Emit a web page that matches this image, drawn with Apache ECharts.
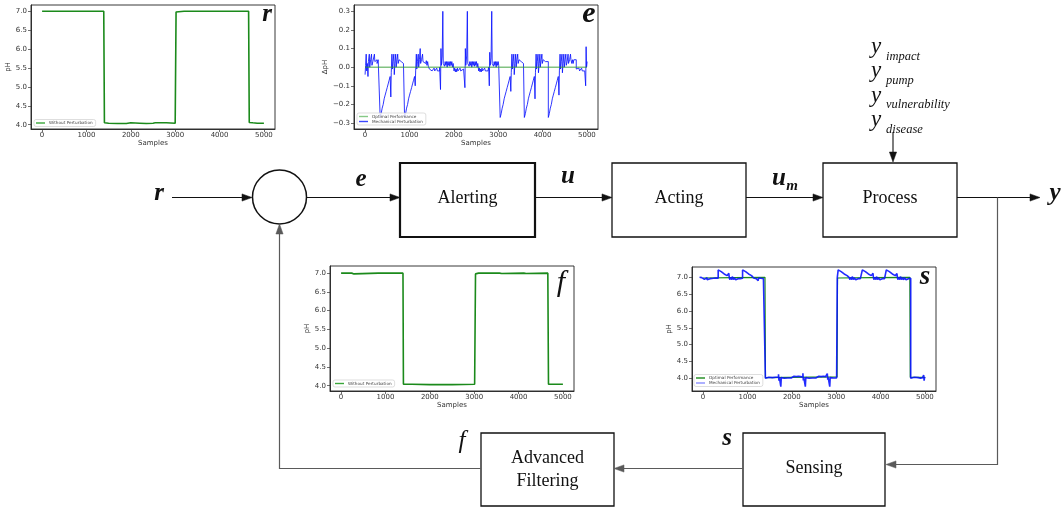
<!DOCTYPE html>
<html>
<head>
<meta charset="utf-8">
<script src="https://cdn.jsdelivr.net/npm/echarts@6/dist/echarts.min.js"></script>
<style>
html,body{margin:0;padding:0;background:#fff;}
#chart{width:1061px;height:509px;}
</style>
</head>
<body>
<div id="chart"></div>
<script>
// Tick positions shared by the four small plots
const sampleTicks = [0, 1000, 2000, 3000, 4000, 5000];
const phTicks = [4.0, 4.5, 5.0, 5.5, 6.0, 6.5, 7.0];
const dphTicks = [-0.3, -0.2, -0.1, 0.0, 0.1, 0.2, 0.3];

// r : reference pH (without perturbation)
const referencePh = [
  [0,7.0],[230,7.0],[250,6.97],[275,6.98],[300,7.0],[830,7.0],[850,6.97],[875,6.99],[900,7.0],
  [1390,7.0],[1405,4.05],[1500,4.04],[1700,4.03],[1900,4.03],[2000,4.05],[2200,4.04],[2350,4.03],
  [2500,4.04],[2550,4.05],[2800,4.05],[3000,4.04],[3020,6.98],[3080,6.99],[3200,7.0],[3560,7.0],
  [3580,6.97],[3600,6.99],[3630,7.0],[4110,7.0],[4130,6.97],[4150,6.99],[4180,7.0],[4655,7.0],
  [4670,4.06],[4750,4.05],[4850,4.04],[5000,4.04]
];

// e : error signal (delta pH)
const errorOptimal = [[0,0.0],[5000,0.0]];
const errorMechanical = [
  [0,-0.04],[12,0.01],[25,0.07],[35,-0.02],[50,0.02],[65,-0.05],[75,0.03],[95,0.07],[105,0.0],[125,0.04],
  [145,0.07],[155,0.01],[175,0.03],[195,0.04],[210,0.07],[220,0.03],[245,0.04],[270,0.02],[295,0.04],[320,0.03],
  [340,-0.27],[362,-0.25],[385,-0.22],[408,-0.2],[430,-0.17],[452,-0.15],[475,-0.13],[498,-0.11],[520,-0.09],
  [542,-0.07],[565,-0.05],[580,-0.16],[590,-0.03],[605,0.07],[615,-0.01],[630,0.03],[648,0.07],[658,-0.04],
  [672,0.02],[690,0.07],[700,0.0],[718,0.04],[735,0.07],[745,0.02],[765,0.04],[790,0.03],[815,0.04],[840,0.02],[865,0.03],
  [890,-0.27],[912,-0.25],[935,-0.22],[958,-0.2],[980,-0.17],[1002,-0.15],[1025,-0.13],[1048,-0.11],[1070,-0.09],
  [1092,-0.07],[1115,-0.05],[1130,-0.1],[1140,-0.02],[1155,0.07],[1165,-0.01],[1180,0.03],[1198,0.07],[1208,0.0],
  [1225,0.04],[1242,0.1],[1252,0.02],[1272,0.04],[1295,0.07],[1305,0.03],[1320,0.04],[1335,0.02],[1350,0.04],
  [1365,0.02],[1380,0.035],[1395,0.01],[1410,0.03],[1425,0.005],
  [1450,-0.01],[1465,0.0],[1480,-0.02],[1495,-0.005],[1510,-0.02],[1525,-0.01],[1540,-0.025],[1555,-0.005],
  [1570,-0.02],[1585,-0.01],[1600,-0.025],[1615,-0.005],[1630,-0.02],[1645,-0.01],[1660,-0.02],[1680,0.0],
  [1700,-0.12],[1710,0.1],[1720,0.01],[1738,0.06],[1752,0.3],[1762,0.02],[1775,0.03],[1790,0.005],[1805,0.03],
  [1820,0.01],[1835,0.03],[1850,0.0],[1865,0.03],[1880,0.01],[1895,0.03],[1910,0.005],[1925,0.03],[1940,0.01],
  [1955,0.03],[1970,0.0],[1985,0.02],
  [2005,-0.02],[2020,-0.005],[2035,-0.025],[2050,-0.01],[2065,-0.025],[2080,-0.005],[2095,-0.02],[2110,-0.01],
  [2125,-0.025],[2140,-0.005],[2155,-0.02],[2170,-0.01],[2185,-0.025],[2200,-0.01],[2220,-0.02],[2235,0.0],
  [2250,-0.11],[2260,0.1],[2270,0.01],[2290,0.06],[2305,0.3],[2315,0.02],[2330,0.03],[2345,0.005],[2360,0.03],
  [2375,0.01],[2390,0.03],[2405,0.0],[2420,0.03],[2435,0.01],[2450,0.03],[2465,0.005],[2480,0.03],[2495,0.01],
  [2510,0.03],[2525,0.0],[2540,0.02],
  [2560,-0.02],[2575,-0.005],[2590,-0.025],[2605,-0.01],[2620,-0.025],[2635,-0.005],[2650,-0.02],[2665,-0.01],
  [2680,-0.025],[2695,-0.005],[2710,-0.02],[2725,-0.01],[2740,-0.025],[2755,-0.01],[2770,-0.02],[2785,0.0],
  [2800,-0.1],[2810,0.08],[2820,0.01],[2840,0.05],[2855,0.3],[2865,0.02],[2880,0.03],[2895,0.005],[2910,0.03],
  [2925,0.01],[2940,0.03],[2955,0.0],[2970,0.03],[2985,0.01],[3000,0.03],[3012,0.01],[3025,0.0],
  [3045,-0.27],[3067,-0.25],[3090,-0.22],[3112,-0.2],[3135,-0.17],[3157,-0.15],[3180,-0.13],[3202,-0.11],[3225,-0.09],
  [3247,-0.07],[3270,-0.05],[3285,-0.13],[3295,-0.03],[3310,0.07],[3320,-0.01],[3335,0.03],[3352,0.07],[3362,-0.04],
  [3378,0.02],[3395,0.07],[3405,0.0],[3422,0.04],[3440,0.07],[3450,0.02],[3470,0.04],[3495,0.03],[3520,0.04],[3545,0.02],[3570,0.03],
  [3590,-0.27],[3612,-0.25],[3635,-0.22],[3658,-0.2],[3680,-0.17],[3702,-0.15],[3725,-0.13],[3748,-0.11],[3770,-0.09],
  [3792,-0.07],[3815,-0.05],[3830,-0.17],[3840,-0.03],[3855,0.07],[3865,-0.01],[3880,0.03],[3898,0.07],[3908,-0.03],
  [3924,0.02],[3940,0.07],[3950,0.0],[3968,0.04],[3985,0.07],[3995,0.02],[4015,0.04],[4040,0.03],[4065,0.04],[4090,0.02],[4110,0.03],
  [4130,-0.27],[4152,-0.25],[4175,-0.22],[4198,-0.2],[4220,-0.17],[4242,-0.15],[4265,-0.13],[4288,-0.11],[4310,-0.09],
  [4332,-0.07],[4355,-0.05],[4370,-0.15],[4380,-0.02],[4395,0.07],[4405,-0.01],[4420,0.03],[4438,0.07],[4448,-0.03],
  [4462,0.02],[4480,0.07],[4490,0.0],[4508,0.04],[4525,0.07],[4535,0.01],[4555,0.03],[4575,0.07],[4585,0.02],
  [4610,0.04],[4630,0.07],[4640,0.04],[4660,0.02],[4675,0.04],[4690,0.02],[4705,0.04],[4720,0.03],[4735,0.04],
  [4760,-0.01],[4775,-0.02],[4790,0.0],[4805,-0.02],[4820,-0.005],[4835,-0.02],[4850,-0.01],[4865,-0.025],
  [4880,-0.005],[4895,-0.02],[4910,-0.01],[4925,-0.02],[4950,-0.01],[4972,-0.1],[4982,0.11],[4992,0.0],[5005,0.03]
];

// f : filtered pH (without perturbation)
const filteredPh = [
  [0,7.0],[240,7.0],[260,6.97],[290,6.98],[320,7.0],[840,7.0],[860,6.97],[885,6.98],[910,7.0],
  [1395,7.0],[1405,4.04],[1600,4.04],[2000,4.03],[2500,4.03],[3010,4.04],[3030,6.98],[3100,7.0],
  [3570,7.0],[3590,6.97],[3620,6.99],[3650,7.0],[4120,7.0],[4140,6.97],[4170,6.99],[4200,7.0],
  [4660,7.0],[4675,4.04],[4800,4.04],[5000,4.04]
];

// s : sensed pH
const sensedOptimal = [
  [0,6.98],[700,6.99],[1395,7.0],[1405,4.02],[3020,4.04],[3030,6.98],[3800,6.99],[4660,7.0],[4670,4.03],[5005,4.03]
];
const sensedMechanical = [
  [-80,7.0],[-65,6.95],[-50,6.99],[-30,6.97],[-10,7.0],[10,6.94],[30,6.98],[50,6.96],[70,6.99],[90,6.93],
  [110,6.98],[135,6.96],[160,6.99],[180,6.95],[200,6.97],[230,6.96],[260,6.98],[290,6.96],[320,6.97],
  [340,7.22],[362,7.2],[385,7.17],[408,7.15],[430,7.12],[452,7.1],[475,7.08],[498,7.06],[520,7.05],[542,7.03],
  [565,7.01],[580,7.12],[590,6.99],[605,6.93],[615,7.0],[630,6.96],[648,6.93],[658,7.02],[672,6.97],[690,6.93],
  [700,6.99],[718,6.96],[735,6.93],[745,6.98],[765,6.96],[790,6.97],[815,6.96],[840,6.98],[865,6.97],
  [890,7.22],[912,7.2],[935,7.17],[958,7.15],[980,7.12],[1002,7.1],[1025,7.08],[1048,7.06],[1070,7.05],[1092,7.03],
  [1115,7.01],[1130,7.08],[1140,6.98],[1155,6.93],[1165,7.0],[1180,6.96],[1198,6.93],[1208,6.99],[1225,6.95],
  [1242,6.9],[1252,6.98],[1272,6.96],[1295,6.93],[1305,6.97],[1330,6.96],[1360,6.97],[1390,6.97],
  [1405,4.0],[1440,4.03],[1480,4.0],[1520,4.02],[1560,4.0],[1600,4.03],[1640,4.01],[1680,4.03],
  [1700,4.12],[1710,3.93],[1720,4.03],[1738,3.98],[1752,3.75],[1762,4.02],[1790,4.0],[1830,4.03],[1870,4.01],
  [1910,4.02],[1950,4.01],[1985,4.03],[2005,4.06],[2050,4.05],[2100,4.06],[2150,4.05],[2200,4.06],[2235,4.04],
  [2250,4.15],[2260,3.94],[2270,4.03],[2290,3.98],[2305,3.75],[2315,4.02],[2350,4.0],[2390,4.03],[2430,4.01],
  [2470,4.02],[2510,4.01],[2540,4.03],[2560,4.06],[2610,4.05],[2660,4.06],[2710,4.05],[2760,4.06],[2785,4.04],
  [2800,4.14],[2810,3.96],[2820,4.03],[2840,3.99],[2855,3.75],[2865,4.02],[2900,4.01],[2940,4.03],[2980,4.01],
  [3010,4.02],[3025,7.0],
  [3045,7.22],[3067,7.2],[3090,7.17],[3112,7.15],[3135,7.12],[3157,7.1],[3180,7.08],[3202,7.06],[3225,7.05],
  [3247,7.03],[3270,7.01],[3285,7.09],[3295,6.99],[3310,6.93],[3320,7.0],[3335,6.96],[3352,6.93],[3362,7.02],
  [3378,6.97],[3395,6.93],[3405,6.99],[3422,6.96],[3440,6.93],[3450,6.98],[3470,6.96],[3495,6.97],[3520,6.96],[3545,6.98],[3570,6.97],
  [3590,7.22],[3612,7.2],[3635,7.17],[3658,7.15],[3680,7.12],[3702,7.1],[3725,7.08],[3748,7.06],[3770,7.05],
  [3792,7.03],[3815,7.01],[3830,7.12],[3840,6.99],[3855,6.93],[3865,7.0],[3880,6.96],[3898,6.93],[3908,7.02],
  [3924,6.97],[3940,6.93],[3950,6.99],[3968,6.96],[3985,6.93],[3995,6.98],[4015,6.96],[4040,6.97],[4065,6.96],[4090,6.98],[4110,6.97],
  [4130,7.22],[4152,7.2],[4175,7.17],[4198,7.15],[4220,7.12],[4242,7.1],[4265,7.08],[4288,7.06],[4310,7.05],
  [4332,7.03],[4355,7.01],[4370,7.11],[4380,6.99],[4395,6.93],[4405,7.0],[4420,6.96],[4438,6.93],[4448,7.02],
  [4462,6.97],[4480,6.93],[4490,6.99],[4508,6.96],[4525,6.93],[4535,6.99],[4555,6.97],[4575,6.93],[4585,6.98],
  [4610,6.96],[4630,6.93],[4640,6.96],[4665,6.97],
  [4680,4.0],[4720,4.03],[4760,4.0],[4800,4.02],[4850,4.0],[4900,4.02],[4950,4.01],[4972,4.1],[4982,3.93],[4992,4.02],[5005,4.0]
];

// Layout of the four small plots: [left, top, width, height]
const plotBoxes = {
  r: [31, 5, 244, 124],
  e: [354, 5, 244, 124],
  f: [330, 266, 244, 125],
  s: [692, 267, 244, 124]
};

const GREEN = '#1b8a1b';
const BLUE = '#0a14ff';
const TICK_FONT = 'DejaVu Sans';

function fmt(v) {
  const t = Math.abs(v) < 1e-9 ? '0.0' : v.toFixed(1);
  return t.replace('-', '\u2212');
}

function makeGrid(b) {
  return {left: b[0], top: b[1], width: b[2], height: b[3], show: true,
    borderColor: '#222', borderWidth: 0.9, backgroundColor: '#fff', containLabel: false};
}

function makeX(gi) {
  return {
    type: 'value', gridIndex: gi, min: -250, max: 5250,
    name: 'Samples', nameLocation: 'middle', nameGap: 11,
    nameTextStyle: {fontSize: 7, color: '#333', fontFamily: TICK_FONT},
    axisLine: {show: true, onZero: false, lineStyle: {color: '#222', width: 0.9}},
    splitLine: {show: false},
    axisTick: {show: true, inside: false, length: 3, customValues: sampleTicks, lineStyle: {color: '#333', width: 0.7}},
    axisLabel: {customValues: sampleTicks, fontSize: 7, color: '#333', margin: 3, fontFamily: TICK_FONT, formatter: v => String(Math.round(v))}
  };
}

function makeY(gi, min, max, ticks, name, gap) {
  return {
    type: 'value', gridIndex: gi, min: min, max: max,
    name: name, nameLocation: 'middle', nameGap: gap, nameRotate: 90,
    nameTextStyle: {fontSize: 7, color: '#333', fontFamily: TICK_FONT},
    axisLine: {show: true, onZero: false, lineStyle: {color: '#222', width: 0.9}},
    splitLine: {show: false},
    axisTick: {show: true, inside: false, length: 3, customValues: ticks, lineStyle: {color: '#333', width: 0.7}},
    axisLabel: {customValues: ticks, fontSize: 7, color: '#333', margin: 4, fontFamily: TICK_FONT, formatter: fmt}
  };
}

function lineSeries(name, gi, data, color, width, opacity, step) {
  return {
    type: 'line', name: name, xAxisIndex: gi, yAxisIndex: gi, data: data,
    showSymbol: false, symbol: 'none', step: step || false, animation: false,
    lineStyle: {color: color, width: width, opacity: opacity},
    itemStyle: {color: color}, silent: true
  };
}

function makeLegend(left, top, items, vertical) {
  return {
    left: left, top: top, orient: vertical ? 'vertical' : 'horizontal',
    itemWidth: 9, itemHeight: 1.4, itemGap: 1, icon: 'rect',
    padding: [1.5, 3, 1.5, 2], borderColor: '#d0d0d0', borderWidth: 0.7, borderRadius: 2,
    backgroundColor: 'rgba(255,255,255,0.85)', selectedMode: false,
    textStyle: {fontSize: 4.2, color: '#444', fontFamily: TICK_FONT, padding: [0, 0, 0, -1]},
    data: items
  };
}

// Block diagram drawn with graphic primitives
const graphics = [];
const INK = '#111';
const FEED = '#5a5a5a';
const SERIF = 'Liberation Serif';

function poly(points, color, w) {
  graphics.push({type: 'polyline', silent: true, z: 10, shape: {points: points},
    style: {stroke: color, lineWidth: w, fill: null}});
}
function head(x, y, dir, color) {
  const L = 10, W = 3.6;
  let p;
  if (dir === 'r') p = [[x, y], [x - L, y - W], [x - L, y + W]];
  if (dir === 'l') p = [[x, y], [x + L, y - W], [x + L, y + W]];
  if (dir === 'u') p = [[x, y], [x - W, y + L], [x + W, y + L]];
  if (dir === 'd') p = [[x, y], [x - W, y - L], [x + W, y - L]];
  graphics.push({type: 'polygon', silent: true, z: 11, shape: {points: p}, style: {fill: color, stroke: color, lineWidth: 0.5}});
}
function box(x, y, w, h, lw) {
  graphics.push({type: 'rect', silent: true, z: 10, shape: {x: x, y: y, width: w, height: h},
    style: {fill: '#fff', stroke: INK, lineWidth: lw}});
}
function label(x, y, text, size, opts) {
  const o = opts || {};
  graphics.push({type: 'text', silent: true, z: 12, x: x, y: y,
    style: {text: text, fontSize: size, fontFamily: SERIF, fontStyle: o.italic ? 'italic' : 'normal',
      fontWeight: o.bold ? 'bold' : 'normal', fill: o.color || INK,
      align: o.align || 'center', verticalAlign: 'middle', lineHeight: o.lh || size}});
}

// forward path
poly([[172, 197.5], [244, 197.5]], INK, 1.2); head(252, 197.5, 'r', INK);
graphics.push({type: 'circle', silent: true, z: 10, shape: {cx: 279.5, cy: 197, r: 27},
  style: {fill: '#fff', stroke: INK, lineWidth: 1.5}});
poly([[307, 197.5], [392, 197.5]], INK, 1.2); head(400, 197.5, 'r', INK);
box(400, 163, 135, 74, 2.2);
poly([[535, 197.5], [604, 197.5]], INK, 1.2); head(612, 197.5, 'r', INK);
box(612, 163, 134, 74, 1.3);
poly([[746, 197.5], [815, 197.5]], INK, 1.2); head(823, 197.5, 'r', INK);
box(823, 163, 134, 74, 1.3);
poly([[957, 197.5], [1032, 197.5]], INK, 1.2); head(1040, 197.5, 'r', INK);
// disturbance input
poly([[893, 132], [893, 154]], INK, 1.1); head(893, 162, 'd', INK);
// feedback path
poly([[997.5, 197.5], [997.5, 464.5], [894, 464.5]], FEED, 1.2); head(886, 464.5, 'l', FEED);
box(743, 433, 142, 73, 1.3);
poly([[743, 468.5], [622, 468.5]], FEED, 1.2); head(614, 468.5, 'l', FEED);
box(481, 433, 133, 73, 1.3);
poly([[481, 468.5], [279.5, 468.5], [279.5, 232]], FEED, 1.2); head(279.5, 224, 'u', FEED);

// block captions
label(467.5, 198, 'Alerting', 18);
label(679, 198, 'Acting', 18);
label(890, 198, 'Process', 18);
label(814, 468, 'Sensing', 18);
label(547.5, 470, 'Advanced\nFiltering', 18, {lh: 23});

// signal names
label(159, 194, 'r', 25, {bold: true, italic: true});
label(361, 180, 'e', 25, {bold: true, italic: true});
label(568, 177, 'u', 25, {bold: true, italic: true});
label(779, 179, 'u', 25, {bold: true, italic: true});
label(792, 186, 'm', 15, {bold: true, italic: true});
label(1055, 194, 'y', 25, {bold: true, italic: true});
label(462, 441, 'f', 25, {italic: true});
label(727, 439, 's', 25, {bold: true, italic: true});

// disturbance names
const disturbances = ['impact', 'pump', 'vulnerability', 'disease'];
disturbances.forEach(function (d, i) {
  const base = 47 + i * 24.3;
  label(871, base, 'y', 23, {italic: true, align: 'left'});
  label(886, base + 9.5, d, 12.5, {italic: true, align: 'left'});
});

// plot letters
label(267, 15, 'r', 25, {bold: true, italic: true});
label(589, 14, 'e', 30, {bold: true, italic: true});
label(561, 283, 'f', 30, {italic: true});
label(925, 277, 's', 27, {bold: true, italic: true});

const option = {
  backgroundColor: '#fff',
  animation: false,
  textStyle: {fontFamily: TICK_FONT},
  grid: [makeGrid(plotBoxes.r), makeGrid(plotBoxes.e), makeGrid(plotBoxes.f), makeGrid(plotBoxes.s)],
  xAxis: [makeX(0), makeX(1), makeX(2), makeX(3)],
  yAxis: [
    makeY(0, 3.886, 7.167, phTicks, 'pH', 12),
    makeY(1, -0.332, 0.334, dphTicks, '\u0394pH', 13),
    makeY(2, 3.86, 7.19, phTicks, 'pH', 14),
    makeY(3, 3.623, 7.306, phTicks, 'pH', 15)
  ],
  legend: [
    makeLegend(34, 119.5, [{name: 'Without Perturbation', itemStyle: {color: '#3aa63a'}}], false),
    makeLegend(357, 113, [
      {name: 'Optimal Performance', itemStyle: {color: '#86c986'}},
      {name: 'Mechanical Perturbation', itemStyle: {color: '#3b46ff'}}
    ], true),
    makeLegend(333, 380, [{name: 'Without Perturbation', itemStyle: {color: '#3aa63a'}}], false),
    makeLegend(694, 374.5, [
      {name: 'Optimal Performance', itemStyle: {color: '#1b8a1b'}},
      {name: 'Mechanical Perturbation', itemStyle: {color: '#8a8fff'}}
    ], true)
  ],
  series: [
    lineSeries('Without Perturbation', 0, referencePh, GREEN, 1.6, 1),
    lineSeries('Mechanical Perturbation', 1, errorMechanical, BLUE, 1.0, 0.85, 'end'),
    lineSeries('Optimal Performance', 1, errorOptimal, '#2e9a2e', 1.4, 0.6),
    lineSeries('Without Perturbation', 2, filteredPh, GREEN, 1.6, 1),
    lineSeries('Optimal Performance', 3, sensedOptimal, GREEN, 1.2, 1),
    lineSeries('Mechanical Perturbation', 3, sensedMechanical, BLUE, 1.6, 0.9, 'end')
  ],
  graphic: graphics
};

const chart = echarts.init(document.getElementById('chart'), null, {renderer: 'canvas'});
chart.setOption(option);
</script>
</body>
</html>
